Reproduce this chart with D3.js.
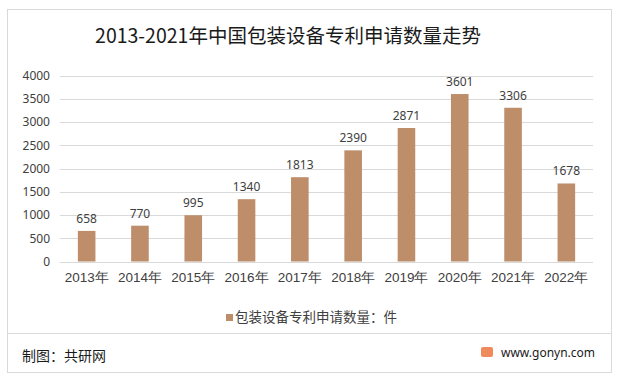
<!DOCTYPE html>
<html><head><meta charset="utf-8">
<script src="https://cdn.jsdelivr.net/npm/d3@7"></script>
<style>body{margin:0;background:#fff;}svg{display:block;font-family:"Noto Sans CJK SC","Noto Sans",sans-serif;}</style>
</head><body>
<svg id="c" width="619" height="379"></svg>
<script>
const years = ["2013年","2014年","2015年","2016年","2017年","2018年","2019年","2020年","2021年","2022年"];
const values = [658,770,995,1340,1813,2390,2871,3601,3306,1678];
const yTicks = [0,500,1000,1500,2000,2500,3000,3500,4000];
const title = "2013-2021年中国包装设备专利申请数量走势";
const legendLabel = "包装设备专利申请数量：件";
const source = "制图：共研网";
const site = "www.gonyn.com";

const svg = d3.select("#c");
const barColor = "#BE8D6A";
const textColor = "#404040";

svg.append("rect").attr("x",7.5).attr("y",9.5).attr("width",604).attr("height",363)
  .attr("fill","#fff").attr("stroke","#d9d9d9");
svg.append("line").attr("x1",7).attr("x2",612).attr("y1",333.5).attr("y2",333.5).attr("stroke","#d9d9d9");

svg.append("text").attr("x",288).attr("y",43).attr("text-anchor","middle")
  .attr("font-size",19.5).attr("fill","#1a1a1a").text(title);

const x = d3.scaleBand().domain(years).range([60,593]).paddingInner(0.67).paddingOuter(0.335);
const y = d3.scaleLinear().domain([0,4000]).range([261.5,75.5]);

const grid = svg.append("g");
grid.selectAll("line").data(yTicks).join("line")
  .attr("x1",60).attr("x2",593).attr("y1",d=>Math.round(y(d))+0.5).attr("y2",d=>Math.round(y(d))+0.5)
  .attr("stroke","#d9d9d9");

const yAxis = svg.append("g").attr("transform","translate(50,0)")
  .call(d3.axisLeft(y).tickValues(yTicks).tickFormat(d3.format("d")).tickSize(0).tickPadding(0));
yAxis.select(".domain").remove();
yAxis.selectAll("text").attr("font-size",12).attr("fill",textColor).attr("font-family","'Noto Sans','Noto Sans CJK SC',sans-serif");

svg.append("g").selectAll("rect").data(values).join("rect")
  .attr("x",(d,i)=>x(years[i])).attr("width",x.bandwidth())
  .attr("y",d=>y(d)).attr("height",d=>y(0)-y(d)).attr("fill",barColor);

svg.append("g").selectAll("text").data(values).join("text")
  .attr("x",(d,i)=>x(years[i])+x.bandwidth()/2).attr("y",d=>y(d)-8)
  .attr("text-anchor","middle").attr("font-size",12).attr("fill",textColor)
  .attr("font-family","'Noto Sans',sans-serif").text(d=>d);

const xAxis = svg.append("g").attr("transform","translate(0,262)")
  .call(d3.axisBottom(x).tickSize(0).tickPadding(10));
xAxis.select(".domain").remove();
xAxis.selectAll("text").attr("font-size",13.5).attr("fill",textColor);

const lg = svg.append("g");
lg.append("rect").attr("x",226).attr("y",314).attr("width",7).attr("height",7).attr("fill",barColor);
lg.append("text").attr("x",235).attr("y",322).attr("font-size",13.5).attr("fill",textColor).text(legendLabel);

svg.append("text").attr("x",22).attr("y",361).attr("font-size",14).attr("fill","#1a1a1a").text(source);
svg.append("rect").attr("x",481).attr("y",347).attr("width",12).attr("height",10).attr("rx",2).attr("fill","#F08A5D");
svg.append("text").attr("x",501).attr("y",357).attr("font-size",12).attr("fill","#1a1a1a")
  .attr("font-family","'Noto Sans',sans-serif").text(site);
</script>
</body></html>
